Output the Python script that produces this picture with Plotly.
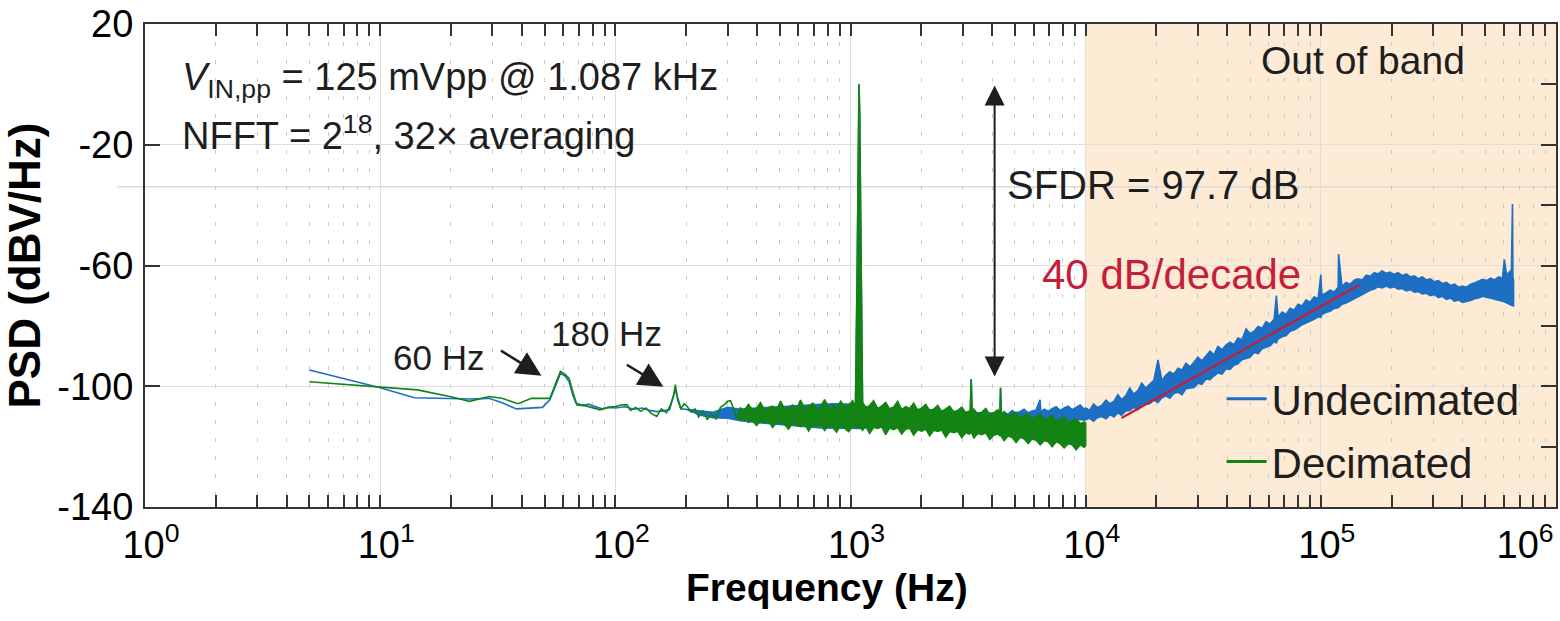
import math
import plotly.graph_objects as go

# ---------------- data ----------------
# Undecimated spectrum: frequency (Hz), upper and lower edge of the plotted trace (dBV/Hz)
undec_f = [5, 7, 10, 14, 20, 24, 29, 33, 38, 44, 49, 52.7, 56, 58.4, 61, 63.6, 66, 68, 72, 77, 82, 88, 94, 100,
           110, 120, 130, 140, 150, 160, 170, 180, 190, 200, 230, 260, 300, 340, 400, 480, 560, 650, 750, 850,
           950, 1050, 1068, 1080, 1087, 1094, 1106, 1125, 1200, 1400, 1600, 1800, 2000, 2300, 2600, 2900, 3200,
           3230, 3260, 3290, 3500, 3800, 4100, 4320, 4346, 4375, 4500, 4680, 4870, 5060, 5260, 5470, 5690, 5920,
           6150, 6400, 6450, 6660, 6930, 7200, 7490, 7790, 8100, 8430, 8760, 9110, 9480, 9860,
           10000, 10400, 10800, 11200, 11700, 12200, 12700, 13200, 13700, 14200, 14800, 15400, 16000, 16700,
           17300, 18000, 18700, 19500, 20300, 21100, 21900, 22800, 23700, 24700, 25700, 26700, 27800, 28900,
           30000, 31200, 32500, 33800, 35100, 36500, 38000, 39500, 41100, 42700, 44400, 46200, 48100, 50000,
           52000, 54100, 56300, 58500, 60800, 63300, 64700, 65800, 68400, 71200, 74000, 77000, 80000, 83200,
           86600, 90000, 93600, 97400, 100000, 101000, 105000, 109500, 114000, 118500, 119000, 123000, 128000,
           133000, 139000, 144000, 150000, 156000, 162000, 169000, 175000, 182000, 190000, 197000, 205000,
           213000, 222000, 231000, 240000, 250000, 260000, 270000, 281000, 292000, 304000, 316000, 329000,
           342000, 356000, 370000, 385000, 400000, 416000, 433000, 450000, 468000, 487000, 506000, 527000,
           548000, 570000, 592000, 603000, 616000, 628000, 640000, 646000, 653000, 656000, 660000]
undec_hi = [-94.6, -97.5, -100.5, -103.8, -104.0, -104.2, -104.0, -105.5, -107.5, -107.3, -107.0, -104.5,
            -99.0, -95.8, -96.5, -98.5, -103.0, -105.6, -106.2, -106.0, -106.8, -107.5, -107.0, -107.2,
            -106.8, -107.6, -107.2, -108.0, -108.4, -108.2, -107.8, -101.0, -107.5, -107.6, -108.0, -108.6,
            -107.0, -107.6, -107.2, -106.8, -106.4, -106.2, -106.0, -105.8, -106.0, -106.0, -60.0, -10.0, 0.0,
            -10.0, -60.0, -106.5, -107.0, -107.4, -107.2, -107.8, -107.6, -108.0, -108.2, -108.4, -108.6,
            -108.8, -97.7, -108.8, -108.8, -109.0, -108.8, -109.0, -100.5, -109.0,
            -108.8, -109.2, -108.0, -108.9, -108.4, -107.6, -108.8, -108.2, -107.9, -104.5, -108.6, -107.6,
            -108.3, -107.4, -106.8, -108.0, -107.2, -106.6, -107.8, -106.9, -106.2, -107.6,
            -107.2, -108.0, -105.9, -107.0, -106.4, -104.6, -105.8, -104.9, -102.8, -104.4, -103.2, -100.6,
            -102.6, -101.4, -99.0, -100.6, -99.2, -98.0, -91.3, -98.2, -96.4, -95.2, -96.0, -94.0, -94.6,
            -92.4, -93.6, -92.0, -90.4, -91.6, -89.8, -88.4, -89.6, -86.8, -87.9, -86.4, -85.4, -86.2, -84.0,
            -84.6, -81.0, -82.6, -81.8, -80.2, -80.8, -78.6, -79.4, -77.8, -70.0, -77.2, -75.4, -76.2, -74.2,
            -74.8, -72.8, -73.4, -71.4, -72.2, -70.4, -70.9, -63.0, -69.8, -69.2, -68.2, -68.8, -67.2, -56.2,
            -67.0, -65.6, -66.2, -64.8, -64.4, -64.8, -63.2, -63.6, -62.4, -62.8, -61.8, -62.6, -62.2, -63.0,
            -62.4, -63.4, -62.8, -63.8, -63.4, -64.4, -63.8, -64.8, -64.4, -65.4, -65.0, -66.0, -65.6, -66.6,
            -66.2, -67.2, -66.8, -67.2, -66.2, -65.8, -65.2, -64.6, -65.0, -64.2, -64.8, -63.8, -64.2, -58.0,
            -63.2, -62.4, -61.8, -62.6, -39.6, -63.8, -65.0]
undec_lo = [-94.6, -97.5, -100.5, -103.8, -104.0, -104.2, -104.0, -105.5, -107.5, -107.3, -107.0, -104.5,
            -99.0, -95.8, -96.5, -98.5, -103.0, -105.6, -106.2, -106.0, -106.8, -107.5, -107.0, -107.2,
            -106.8, -107.6, -107.2, -108.0, -108.4, -108.2, -107.8, -101.0, -107.5, -107.6, -109.6, -110.4,
            -110.6, -111.4, -112.0, -112.6, -113.0, -113.4, -113.8, -114.0, -114.0, -114.0, -114.0, -114.0,
            -114.0, -114.0, -114.0, -114.0, -113.5, -113.2, -113.0, -113.0, -112.8, -112.6, -112.6, -112.5,
            -112.4, -112.4, -112.4, -112.4, -112.2, -112.0, -112.0, -112.0, -112.0, -112.0,
            -111.8, -111.9, -111.7, -111.8, -111.6, -111.7, -111.5, -111.6, -111.4, -111.5, -111.4, -111.4,
            -111.3, -111.4, -111.2, -111.3, -111.2, -111.3, -111.1, -111.2, -111.0, -111.2,
            -111.2, -110.6, -111.6, -110.4, -110.0, -110.8, -109.4, -110.2, -108.8, -109.6, -108.2, -108.0,
            -107.0, -107.8,
            -106.2, -106.0, -105.8, -104.6, -105.4, -103.8, -103.2, -104.0, -102.4, -102.0, -102.8, -100.8,
            -100.6, -100.4,
            -99.0, -99.4, -97.6, -97.8, -96.6, -95.6, -96.0, -94.2, -94.4, -93.0, -92.6, -91.2, -90.8, -90.4,
            -88.8, -89.2, -87.6, -87.0, -86.6, -85.2, -85.6, -84.4, -83.6, -83.2, -81.8, -81.4, -80.6, -79.6,
            -79.2, -78.4, -77.8, -77.0, -77.2, -76.2, -75.6, -75.2, -74.2, -74.0, -73.8, -72.8, -72.4,
            -71.6, -71.0, -70.4, -69.6, -69.0, -68.2, -67.8, -67.0, -67.4, -66.8, -67.4, -67.0,
            -67.8, -67.6, -68.4, -68.0, -68.8, -68.6, -69.4, -69.2, -70.0, -69.6, -70.6, -70.2,
            -71.2, -70.8, -71.8, -71.4, -72.2, -71.8, -71.6, -71.0, -70.8, -70.2, -70.6, -70.8,
            -71.2, -71.6, -71.8, -72.0, -72.4, -72.6, -73.0, -73.2, -73.2, -73.4, -73.4]

# Decimated spectrum
dec_f = [5, 8, 10, 14.4, 20, 24, 29, 33, 38.6, 44, 52.7, 56, 58.4, 61, 63.6, 66, 68.7, 75, 86, 93, 100,
         106, 112, 116, 122, 128, 135, 142, 150, 157, 165, 172, 177, 180, 184, 190, 196, 202, 210, 218, 226,
         236, 246, 256, 268, 280, 292, 300, 309, 318, 328,
         340, 354, 368, 383, 398, 414, 431, 448, 466, 485, 504, 524, 545, 567, 590, 613, 638, 663, 690, 717,
         746, 776, 807, 839, 873, 908, 944, 982, 1021, 1050, 1068, 1080, 1087, 1094, 1106, 1125, 1160, 1206,
         1254, 1304, 1356, 1411, 1467, 1526, 1587, 1650, 1716, 1785, 1856, 1931, 2008, 2088, 2172, 2259,
         2349, 2443, 2541, 2642, 2748, 2858, 2972, 3091, 3200, 3230, 3260, 3290, 3343, 3477, 3616, 3760,
         3911, 4067, 4230, 4320, 4346, 4375, 4500, 4680, 4868, 5062, 5265, 5475, 5694, 5922, 6159, 6405,
         6661, 6928, 7205, 7493, 7793, 8104, 8429, 8766, 9116, 9481, 9860, 10000]
dec_hi = [-98.5, -99.8, -100.3, -101.2, -103.5, -105.0, -103.4, -104.0, -105.8, -104.0, -104.0, -99.0,
          -95.1, -96.0, -97.4, -102.0, -106.2, -106.5, -107.8, -107.0, -106.7,
          -106.2, -106.1, -108.0, -107.0, -108.3, -107.2, -109.0, -110.0, -107.5, -108.8, -106.0, -103.0,
          -99.5, -104.5, -107.5, -105.8, -106.7, -108.5, -107.5, -110.2, -108.2, -111.1, -109.0, -110.8,
          -107.0, -106.0, -105.0, -104.8, -107.5, -110.5,
          -107.2, -108.0, -106.0, -107.8, -107.4, -105.4, -107.9, -107.1, -106.6, -108.0, -104.9, -107.6,
          -107.0, -106.2, -107.8, -104.6, -107.4, -106.8, -105.6, -107.5, -106.9, -104.4, -107.2, -106.2,
          -107.4, -105.0, -106.8, -106.3, -104.8, -107.0, -60.0, -10.0, 0.0, -10.0, -60.0, -105.2, -107.2,
          -106.4, -104.8, -107.4, -106.6, -105.4, -107.6, -106.9, -105.0, -107.8, -106.8, -107.4, -105.6,
          -108.0, -107.2, -106.0, -108.1, -107.6, -106.4, -108.4, -107.5, -106.6, -108.6, -108.0, -106.9,
          -108.8, -108.2, -108.8, -97.7, -109.0, -107.6, -109.2, -108.6, -107.4, -109.4, -108.8, -107.8,
          -109.4, -100.5, -109.6, -108.4, -110.0, -109.2, -108.6, -110.4, -109.8, -108.9, -110.8, -110.2,
          -109.2, -111.2, -110.6, -109.8, -111.6, -111.0, -110.2, -112.0, -111.4, -110.8, -112.4, -111.8,
          -112.2]
dec_lo = [-98.5, -99.8, -100.3, -101.2, -103.5, -105.0, -103.4, -104.0, -105.8, -104.0, -104.0, -99.0,
          -95.1, -96.0, -97.4, -102.0, -106.2, -106.5, -107.8, -107.0, -106.7,
          -106.2, -106.1, -108.0, -107.0, -108.3, -107.2, -109.0, -110.0, -107.5, -108.8, -106.0, -103.0,
          -99.5, -104.5, -107.5, -105.8, -106.7, -108.5, -107.5, -110.2, -108.2, -111.1, -109.0, -110.8,
          -107.0, -106.0, -105.0, -104.8, -107.5, -110.5,
          -111.3, -110.8, -111.9, -111.2, -113.0, -111.6, -112.0, -111.4, -113.6, -112.1, -111.9, -112.6,
          -114.2, -112.0, -112.9, -113.4, -112.2, -114.8, -112.8, -113.3, -112.6, -114.6, -113.0, -113.6,
          -115.2, -112.9, -113.8, -115.0, -113.2, -113.6, -113.4, -113.6, -113.4, -113.8, -113.6, -114.6,
          -113.2, -115.6, -113.6, -114.0, -113.4, -116.0, -113.8, -114.4, -113.7, -115.8, -114.2, -113.9,
          -116.2, -114.4, -114.9, -114.2, -116.4, -114.6, -115.0, -114.5, -116.8, -115.0, -115.4, -114.9,
          -117.0, -115.4, -115.8, -115.2, -115.6, -115.4, -117.2, -115.6, -116.0, -115.4, -117.6, -116.2,
          -115.8, -116.4, -116.2, -116.6, -118.0, -116.5, -117.0, -118.6, -116.9, -117.4, -119.0, -117.4,
          -117.9, -119.4, -118.0, -118.4, -120.0, -118.4, -119.0, -120.4, -119.0, -119.4, -121.0, -119.4,
          -120.2, -119.6]

assert len(undec_f) == len(undec_hi) == len(undec_lo)
assert len(dec_f) == len(dec_hi) == len(dec_lo)

slope_f = [14200, 146000]
slope_db = [-110.5, -66.4]

band_start_hz = 1e4
band_end_hz = 1e6

sfdr_freq = 4100
fund_peak_db = -0.4
spur_db = -97.3

x_tick_vals = [1, 10, 100, 1e3, 1e4, 1e5, 1e6]
x_tick_text = ["10<sup>0</sup>", "10<sup>1</sup>", "10<sup>2</sup>", "10<sup>3</sup>",
               "10<sup>4</sup>", "10<sup>5</sup>", "10<sup>6</sup>" + "\u00a0" * 7]
x_minor_vals = [m * 10 ** d for d in range(6) for m in range(2, 10)]
y_tick_vals = [20, -20, -60, -100, -140]
y_tick_text = ["20", "-20", "-60", "-100", "-140"]
y_right_tick_vals = [20, 0, -20, -40, -60, -80, -100, -120, -140]
y_range = [-140, 20]
x_log_range = [0, 6]

# ---------------- styling ----------------
FONT = "Liberation Sans, Arial, sans-serif"
BLUE = "#1c6fc2"
GREEN = "#138313"
RED = "#c41e3a"
AXC = "#333333"
TXT = "#1e1e1e"

fig = go.Figure()


def band_trace(f, hi, lo, color, group):
    # outline of the noisy trace: upper edge forward, lower edge backward
    xs = list(f) + list(f)[::-1]
    ys = list(hi) + list(lo)[::-1]
    return go.Scatter(x=xs, y=ys, mode="lines", fill="toself", fillcolor=color,
                      line=dict(color=color, width=1.6), showlegend=False, legendgroup=group,
                      hoverinfo="skip")


fig.add_trace(band_trace(undec_f, undec_hi, undec_lo, BLUE, "u"))
fig.add_trace(band_trace(dec_f, dec_hi, dec_lo, GREEN, "d"))
fig.add_trace(go.Scatter(x=slope_f, y=slope_db, mode="lines", showlegend=False,
                         line=dict(color=RED, width=2.2)))
# legend entries
fig.add_trace(go.Scatter(x=[None], y=[None], mode="lines", name="Undecimated", legendgroup="u",
                         line=dict(color=BLUE, width=3)))
fig.add_trace(go.Scatter(x=[None], y=[None], mode="lines", name="Decimated", legendgroup="d",
                         line=dict(color=GREEN, width=3)))
# carrier for right-hand tick marks
fig.add_trace(go.Scatter(x=[band_start_hz], y=[None], yaxis="y2", showlegend=False,
                         hoverinfo="skip", mode="lines"))

span = x_log_range[1] - x_log_range[0]
band_p0 = (math.log10(band_start_hz) - x_log_range[0]) / span
band_p1 = (math.log10(band_end_hz) - x_log_range[0]) / span
fig.add_shape(type="rect", xref="paper", yref="paper", x0=band_p0, x1=band_p1, y0=0, y1=1,
              fillcolor="#fdebd5", line_width=0, layer="below")
# faint horizontal stray line present in the reference
fig.add_shape(type="line", xref="paper", yref="y", x0=-0.02, x1=1, y0=-33.9, y1=-33.9,
              line=dict(color="#dcdcdc", width=1.5), layer="below")

ann = []


def txt(text, x, y, xanchor, size=38, color=TXT, yanchor="middle"):
    ann.append(dict(text=text, x=x, y=y, xref="paper", yref="paper", xanchor=xanchor,
                    yanchor=yanchor, showarrow=False, font=dict(family=FONT, size=size, color=color)))


txt("<i>V</i><sub>IN,pp</sub> = 125 mVpp @ 1.087 kHz", 0.0245, 0.885, "left")
txt("NFFT = 2<sup>18</sup>, 32× averaging", 0.0245, 0.775, "left")
txt("SFDR = 97.7 dB", 0.6095, 0.667, "left", size=40)
txt("Out of band", 0.863, 0.925, "center", size=39)
txt("60 Hz", 0.2077, 0.3085, "center", size=35)
txt("180 Hz", 0.3274, 0.36, "center", size=35)
txt("40 dB/decade", 0.8207, 0.4824, "right", size=42, color=RED)
# x-axis title (placed as in the reference, slightly left of centre)
txt("<b>Frequency (Hz)</b>", 0.4835, -0.166, "center", size=39, color="black")

# pointer arrows
ann.append(dict(x=math.log10(48.5), y=-96.5, xref="x", yref="y", ax=-42, ay=-26, text="",
                showarrow=True, arrowhead=2, arrowsize=1.9, arrowwidth=2.6, arrowcolor=TXT))
ann.append(dict(x=math.log10(160), y=-100.2, xref="x", yref="y", ax=-38, ay=-23, text="",
                showarrow=True, arrowhead=2, arrowsize=1.9, arrowwidth=2.6, arrowcolor=TXT))
# SFDR double arrow
ann.append(dict(x=math.log10(sfdr_freq), y=fund_peak_db, xref="x", yref="y",
                ax=math.log10(sfdr_freq), ay=spur_db, axref="x", ayref="y", text="",
                showarrow=True, arrowside="end+start", arrowhead=2, startarrowhead=2,
                arrowsize=2, startarrowsize=2, arrowwidth=2, arrowcolor=TXT))

fig.update_layout(
    width=1560, height=621,
    margin=dict(l=145, r=4, t=24, b=114),
    paper_bgcolor="white", plot_bgcolor="rgba(0,0,0,0)",
    font=dict(family=FONT, color="black"),
    annotations=ann,
    showlegend=True,
    legend=dict(x=0.763, y=0.294, xanchor="left", yanchor="top", bgcolor="rgba(0,0,0,0)",
                font=dict(family=FONT, size=42, color=TXT), itemwidth=40, tracegroupgap=5),
    xaxis=dict(type="log", range=x_log_range, tickmode="array", tickvals=x_tick_vals,
               ticktext=x_tick_text, ticks="inside", ticklen=12, tickwidth=2, tickcolor=AXC,
               showline=True, linecolor=AXC, linewidth=2, mirror="allticks",
               showgrid=True, gridcolor="#dedede", gridwidth=1, automargin=False,
               tickfont=dict(family=FONT, size=38, color="black"), ticklabelstandoff=3,
               ticklabelshift=6, ticklabeloverflow="allow",
               minor=dict(tickmode="array", tickvals=x_minor_vals, ticks="inside", ticklen=8,
                          tickwidth=2, tickcolor=AXC, showgrid=True, gridcolor="#c9c9c9",
                          griddash="4px,14px", gridwidth=1),
               zeroline=False),
    yaxis=dict(range=y_range, tickmode="array", tickvals=y_tick_vals, ticktext=y_tick_text,
               ticks="inside", ticklen=15, automargin=False,
               tickwidth=2, tickcolor=AXC, showline=True, linecolor=AXC, linewidth=2, mirror=True,
               showgrid=True, gridcolor="#dedede", gridwidth=1, zeroline=False,
               tickfont=dict(family=FONT, size=38, color="black"), ticklabelstandoff=2,
               title=dict(text="<b>PSD (dBV/Hz)</b>", standoff=4,
                          font=dict(family=FONT, size=44, color="black"))),
    yaxis2=dict(range=y_range, overlaying="y", side="right", tickmode="array",
                tickvals=y_right_tick_vals, ticks="inside", ticklen=15, tickwidth=2, tickcolor=AXC,
                showticklabels=False, showgrid=False, showline=False, zeroline=False),
)

fig.write_html("out.html")
